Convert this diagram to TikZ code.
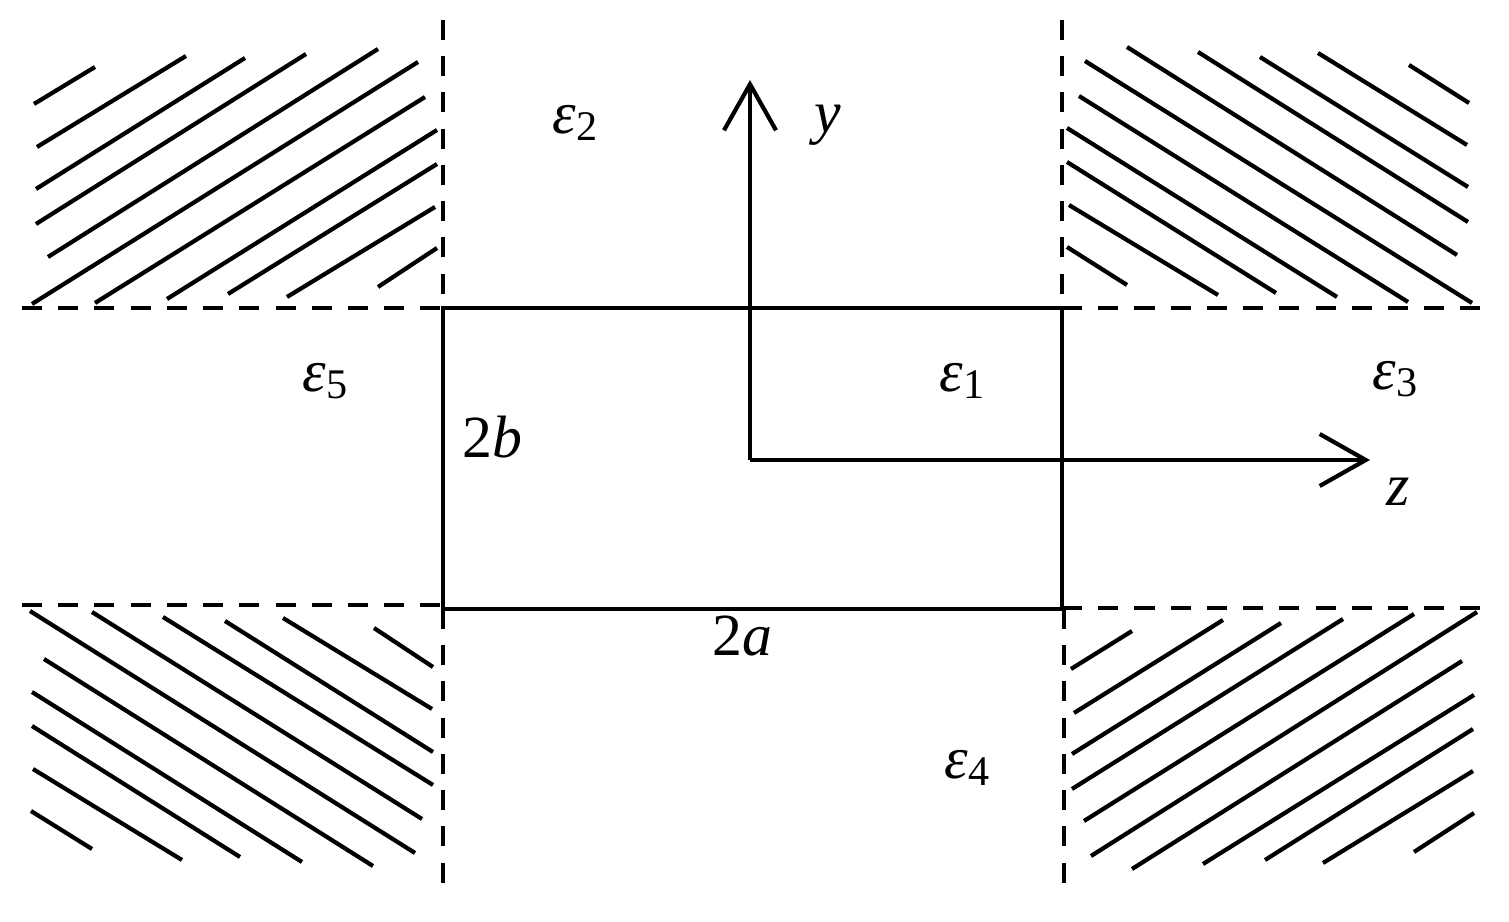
\documentclass[tikz,border=0pt]{standalone}
\usepackage{fontspec}
\setmainfont{Liberation Serif}
\usetikzlibrary{arrows.meta}

\newcommand{\perm}[1]{{\itshape ε}\raisebox{-2.2pt}{\fontsize{12}{12}\selectfont #1}}

\begin{document}
\begin{tikzpicture}[x=0.01cm,y=-0.01cm,
  hatch/.style={line width=1.2pt},
  bound/.style={line width=1.3pt,dash pattern=on 5.7pt off 4.6pt},
  axis/.style={line width=1.2pt,-{Straight Barb[length=4.6mm,width=5.2mm,line width=1.2pt]}},
  lbl/.style={inner sep=0pt,font=\fontsize{17}{17}\selectfont}]
  \useasboundingbox (0,0) rectangle (1509,922);

  % waveguide core
  \coordinate (A) at (443,308);
  \coordinate (C) at (1062,609);
  \draw[line width=1.4pt] (A) rectangle (C);

  % region boundaries
  \draw[bound] (443,20) -- (A);
  \draw[bound] (22,308) -- (A);
  \draw[bound] (1062,20) -- (1062,308);
  \draw[bound] (1062,308) -- (1482,308);
  \draw[bound] (22,605) -- (443,605);
  \draw[bound] (443,609) -- (443,894);
  \draw[bound] (1062,608) -- (1482,608);
  \draw[bound] (1064,609) -- (1064,894);

  % hatching
  \foreach \xa/\ya/\xb/\yb in {34/104/95/67, 37/147/186/56, 36/189/245/58, 36/224/306/54,
      48/257/378/49, 32/304/418/62, 95/303/425/97, 167/299/437/130, 228/294/437/164,
      287/297/435/207, 378/287/437/248}
    \draw[hatch] (\xa,\ya) -- (\xb,\yb);
  \foreach \xa/\ya/\xb/\yb in {1085/61/1472/303, 1127/47/1457/255, 1198/52/1468/222,
      1260/57/1468/187, 1318/53/1467/145, 1409/65/1469/103, 1079/96/1408/302,
      1067/128/1337/297, 1067/162/1276/293, 1069/205/1218/295, 1067/247/1127/285}
    \draw[hatch] (\xa,\ya) -- (\xb,\yb);
  \foreach \xa/\ya/\xb/\yb in {30/611/415/853, 92/612/422/819, 163/617/433/785,
      225/621/433/752, 283/618/432/709, 374/628/433/667, 44/659/373/866,
      32/692/302/862, 32/726/240/857, 33/769/182/860, 31/811/92/849}
    \draw[hatch] (\xa,\ya) -- (\xb,\yb);
  \foreach \xa/\ya/\xb/\yb in {1071/669/1132/631, 1074/713/1223/620, 1072/754/1281/623,
      1072/789/1343/619, 1084/821/1414/614, 1091/856/1477/612, 1132/869/1462/661,
      1203/864/1474/695, 1265/860/1473/729, 1323/863/1473/771, 1414/852/1474/813}
    \draw[hatch] (\xa,\ya) -- (\xb,\yb);

  % axes
  \coordinate (O) at (750,460);
  \coordinate (ytip) at (750,80);
  \coordinate (ztip) at (1370,460);
  \draw[axis] (O) -- (ytip);
  \draw[axis] (O) -- (ztip);

  % labels
  \node[lbl] (y) at (828,125) {\itshape y};
  \node[lbl] (z) at (1398,492) {\itshape z};
  \node[lbl] (e1) at (962,381) {\perm{1}};
  \node[lbl] (e2) at (575,123) {\perm{2}};
  \node[lbl] (e3) at (1395,379) {\perm{3}};
  \node[lbl] (e4) at (967,768) {\perm{4}};
  \node[lbl] (e5) at (325,381) {\perm{5}};
  \node[lbl] (b) at (492,437) {2\textit{b}};
  \node[lbl] (a) at (742,636) {2\textit{a}};
\end{tikzpicture}
\end{document}
